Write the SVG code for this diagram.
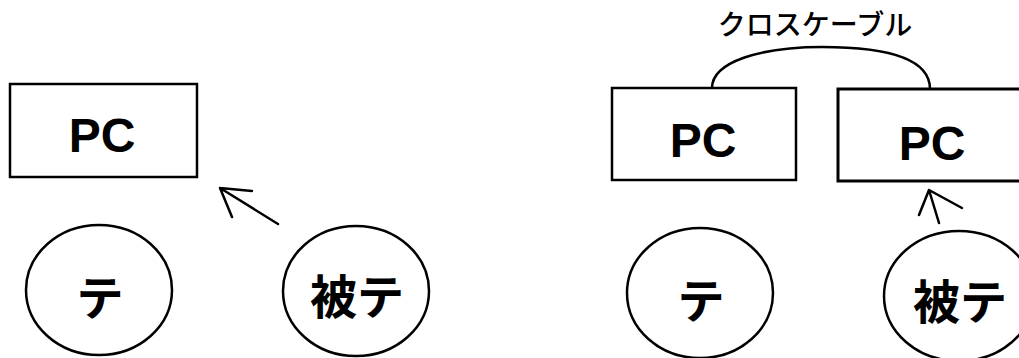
<svg xmlns="http://www.w3.org/2000/svg" width="1019" height="358" viewBox="0 0 1019 358">
<style>
.box{fill:#fff;stroke:#000;stroke-width:2.5}
.ell{fill:#fff;stroke:#000;stroke-width:2.5}
.pc{font-family:"Liberation Sans",Arial,sans-serif;font-weight:bold;font-size:48px;fill:#000;text-anchor:middle}
.jp{font-family:"Noto Sans CJK JP",sans-serif;font-weight:bold;font-size:47px;fill:#000;text-anchor:middle;dominant-baseline:central}
.lbl{font-family:"Noto Sans CJK JP",sans-serif;font-weight:500;font-size:28px;fill:#000;text-anchor:middle;dominant-baseline:central}
.ln{fill:none;stroke:#000;stroke-width:2.5;stroke-linecap:round;stroke-linejoin:round}
</style>
<rect width="1019" height="358" fill="#fff"/>
<g id="connectors">
<path class="ln" d="M712,88 C712,62 760,47 822,47 C885,47 930,58 930,89"/>
<path class="ln" d="M278,224 L220,188 M220,188 L252,191 M220,188 L232,217"/>
<path class="ln" d="M939,223 L929,190 M929,190 L919,215 M929,190 L962,208"/>
</g>
<text class="lbl" x="815" y="23">クロスケーブル</text>
<g id="pc-left">
<rect class="box" x="10" y="84" width="187" height="93"/>
<text class="pc" x="102" y="152">PC</text>
</g>
<g id="te-left">
<ellipse class="ell" cx="99" cy="290" rx="73" ry="65"/>
<text class="jp" x="100" y="294">テ</text>
</g>
<g id="hite-left">
<ellipse class="ell" cx="356" cy="291" rx="73" ry="65"/>
<text class="jp" x="357" y="293">被テ</text>
</g>
<g id="pc-right1">
<rect class="box" x="612" y="88" width="184" height="92"/>
<text class="pc" x="703" y="157">PC</text>
</g>
<g id="pc-right2">
<rect class="box" x="838" y="89" width="200" height="92" style="stroke-width:3"/>
<text class="pc" x="932" y="160">PC</text>
</g>
<g id="te-right">
<ellipse class="ell" cx="700" cy="293" rx="73" ry="65"/>
<text class="jp" x="701" y="297">テ</text>
</g>
<g id="hite-right">
<ellipse class="ell" cx="959" cy="296" rx="75" ry="65"/>
<text class="jp" x="960" y="298">被テ</text>
</g>
</svg>
